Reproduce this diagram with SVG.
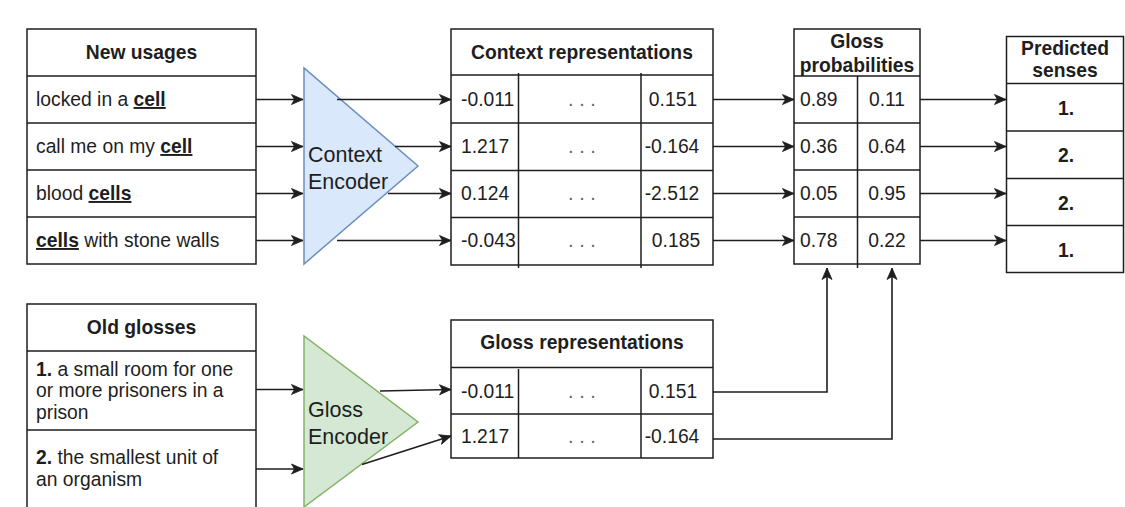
<svg xmlns="http://www.w3.org/2000/svg" width="1125" height="507" viewBox="0 0 1125 507">
  <style>
    .box { fill: #ffffff; stroke: #1e1e1e; stroke-width: 1.5; }
    .sep { fill: none; stroke: #1e1e1e; stroke-width: 1.5; }
    .t { font-family: "Liberation Sans", Arial, sans-serif; font-size: 19.3px; fill: #1e1e1e; }
    .b { font-weight: bold; }
    .u { font-weight: bold; text-decoration: underline; }
    .c { text-anchor: middle; }
    .dots { font-family: "Liberation Sans", Arial, sans-serif; font-size: 20px; fill: #666666; text-anchor: middle; }
    .enc { font-family: "Liberation Sans", Arial, sans-serif; font-size: 21.5px; fill: #1e1e1e; }
    .wire { fill: none; stroke: #1e1e1e; stroke-width: 1.6; marker-end: url(#arrow); }
  </style>
  <defs>
    <marker id="arrow" markerUnits="userSpaceOnUse" markerWidth="13" markerHeight="12" refX="12" refY="6" orient="auto">
      <path d="M0.5,1 L12,6 L0.5,11 L3.5,6 Z" fill="#1e1e1e" stroke="#1e1e1e" stroke-width="0.8" stroke-linejoin="miter"/>
    </marker>
  </defs>

  <rect width="1125" height="507" fill="#ffffff"/>

  <!-- New usages -->
  <g id="new-usages">
    <rect class="box" x="27" y="29" width="229" height="235"/>
    <path class="sep" d="M27,76 H256 M27,123 H256 M27,170 H256 M27,217 H256"/>
    <text class="t b c" x="141.5" y="59">New usages</text>
    <text class="t" x="36" y="106">locked in a <tspan class="u">cell</tspan></text>
    <text class="t" x="36" y="153">call me on my <tspan class="u">cell</tspan></text>
    <text class="t" x="36" y="200">blood <tspan class="u">cells</tspan></text>
    <text class="t" x="36" y="247"><tspan class="u">cells</tspan> with stone walls</text>
  </g>

  <!-- Context encoder -->
  <g id="context-encoder">
    <polygon points="304,68 304,264 418,166" fill="#dae8fc" stroke="#6c8ebf" stroke-width="1.5"/>
    <text class="enc" x="308" y="162">Context</text>
    <text class="enc" x="308" y="188.5">Encoder</text>
  </g>

  <!-- Context representations -->
  <g id="context-representations">
    <rect class="box" x="451" y="29" width="262" height="236"/>
    <path class="sep" d="M451,75 H713 M451,123 H713 M451,170.5 H713 M451,217.5 H713"/>
    <path class="sep" d="M518.5,73 V268 M641,73 V268"/>
    <text class="t b c" x="582" y="59">Context representations</text>
    <text class="t" x="461" y="106">-0.011</text>
    <text class="t" x="461" y="153">1.217</text>
    <text class="t" x="461" y="200">0.124</text>
    <text class="t" x="461" y="247">-0.043</text>
    <text class="dots" x="582" y="106">. . .</text>
    <text class="dots" x="582" y="153">. . .</text>
    <text class="dots" x="582" y="200">. . .</text>
    <text class="dots" x="582" y="247">. . .</text>
    <text class="t c" x="673" y="106">0.151</text>
    <text class="t c" x="672" y="153">-0.164</text>
    <text class="t c" x="672" y="200">-2.512</text>
    <text class="t c" x="676" y="247">0.185</text>
  </g>

  <!-- Gloss probabilities -->
  <g id="gloss-probabilities">
    <rect class="box" x="794" y="29" width="126" height="235"/>
    <path class="sep" d="M794,76 H920 M794,123 H920 M794,170 H920 M794,217 H920"/>
    <path class="sep" d="M857.5,76 V268"/>
    <text class="t b c" x="857" y="48">Gloss</text>
    <text class="t b c" x="857" y="71.5">probabilities</text>
    <text class="t" x="800" y="106">0.89</text>
    <text class="t" x="800" y="153">0.36</text>
    <text class="t" x="800" y="200">0.05</text>
    <text class="t" x="800" y="247">0.78</text>
    <text class="t c" x="887" y="106">0.11</text>
    <text class="t c" x="887" y="153">0.64</text>
    <text class="t c" x="887" y="200">0.95</text>
    <text class="t c" x="887" y="247">0.22</text>
  </g>

  <!-- Predicted senses -->
  <g id="predicted-senses">
    <rect class="box" x="1006.5" y="36.5" width="117" height="236"/>
    <path class="sep" d="M1006.5,83.5 H1123.5 M1006.5,131 H1123.5 M1006.5,178.5 H1123.5 M1006.5,225.5 H1123.5"/>
    <text class="t b c" x="1065" y="55">Predicted</text>
    <text class="t b c" x="1065" y="77">senses</text>
    <text class="t b c" x="1066" y="115">1.</text>
    <text class="t b c" x="1066" y="162">2.</text>
    <text class="t b c" x="1066" y="209.5">2.</text>
    <text class="t b c" x="1066" y="256.5">1.</text>
  </g>

  <!-- Old glosses -->
  <g id="old-glosses">
    <path class="box" d="M27,510 V304 H256 V510"/>
    <path class="sep" d="M27,351 H256 M27,430 H256"/>
    <text class="t b c" x="141.5" y="334">Old glosses</text>
    <text class="t" x="36" y="375.5"><tspan class="b">1.</tspan> a small room for one</text>
    <text class="t" x="36" y="397">or more prisoners in a</text>
    <text class="t" x="36" y="418.5">prison</text>
    <text class="t" x="36" y="464"><tspan class="b">2.</tspan> the smallest unit of</text>
    <text class="t" x="36" y="486">an organism</text>
  </g>

  <!-- Gloss encoder -->
  <g id="gloss-encoder">
    <polygon points="304,336 304,507 418,422" fill="#d5e8d4" stroke="#82b366" stroke-width="1.5"/>
    <text class="enc" x="308" y="417">Gloss</text>
    <text class="enc" x="308" y="443.5">Encoder</text>
  </g>

  <!-- Gloss representations -->
  <g id="gloss-representations">
    <rect class="box" x="451" y="320" width="262" height="138"/>
    <path class="sep" d="M451,367.5 H713 M451,414 H713"/>
    <path class="sep" d="M518.5,369 V458 M641,369 V458"/>
    <text class="t b c" x="582" y="349">Gloss representations</text>
    <text class="t" x="461" y="397.5">-0.011</text>
    <text class="t" x="461" y="443">1.217</text>
    <text class="dots" x="582" y="397.5">. . .</text>
    <text class="dots" x="582" y="443">. . .</text>
    <text class="t c" x="673" y="397.5">0.151</text>
    <text class="t c" x="672" y="443">-0.164</text>
  </g>

  <!-- Connectors -->
  <g id="connectors">
    <!-- usages into the context encoder -->
    <path class="wire" d="M256,99.5 H303"/>
    <path class="wire" d="M256,146.5 H303"/>
    <path class="wire" d="M256,193.5 H303"/>
    <path class="wire" d="M256,240.5 H303"/>
    <!-- context encoder to context representations -->
    <path class="wire" d="M337,99.5 H451"/>
    <path class="wire" d="M395,146.5 H451"/>
    <path class="wire" d="M388,193.5 H451"/>
    <path class="wire" d="M337,240.5 H451"/>
    <!-- context representations to gloss probabilities -->
    <path class="wire" d="M713,99.5 H794"/>
    <path class="wire" d="M713,146.5 H794"/>
    <path class="wire" d="M713,193.5 H794"/>
    <path class="wire" d="M713,240.5 H794"/>
    <!-- gloss probabilities to predicted senses -->
    <path class="wire" d="M920,99.5 H1006"/>
    <path class="wire" d="M920,146.5 H1006"/>
    <path class="wire" d="M920,193.5 H1006"/>
    <path class="wire" d="M920,240.5 H1006"/>
    <!-- glosses into the gloss encoder -->
    <path class="wire" d="M256,389.5 H303"/>
    <path class="wire" d="M256,469 H303"/>
    <!-- gloss encoder to gloss representations -->
    <path class="wire" d="M380,391 L451,389.5"/>
    <path class="wire" d="M362,464.5 L451,436"/>
    <!-- gloss representations up to gloss probabilities -->
    <path class="wire" d="M713,392 H827 V268"/>
    <path class="wire" d="M713,439 H892 V268"/>
  </g>
</svg>
